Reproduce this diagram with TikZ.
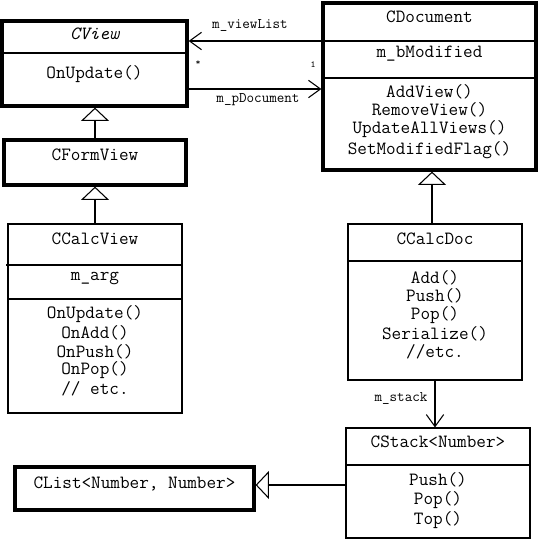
\documentclass[tikz,border=0pt]{standalone}
\usepackage{fontspec}
\usetikzlibrary{arrows.meta,calc}
\begin{document}
\begin{tikzpicture}[x=0.75pt,y=-0.75pt,
  cls/.style={draw, rectangle, line width=0.8pt, inner sep=0pt},
  thickcls/.style={cls, line width=2.4pt},
  txt/.style={inner sep=0pt, font=\ttfamily\fontsize{14}{16}\selectfont},
  lbl/.style={inner sep=0pt, font=\ttfamily\fontsize{11}{12}\selectfont},
  mult/.style={inner sep=0pt, font=\ttfamily\fontsize{7}{8}\selectfont},
  div/.style={line width=0.8pt},
  inh/.style={line width=0.8pt, -{Triangle[open, length=10pt, width=21pt, line width=0.8pt]}},
  assoc/.style={line width=0.8pt, -{Straight Barb[length=9pt, width=13pt, line width=0.8pt]}}
]
\useasboundingbox (0,0) rectangle (540,544);

% CView
\node[thickcls, minimum width=185*0.75pt, minimum height=85*0.75pt] (cview) at (94.5,63.5) {};
\draw[div] (cview.west |- 0,53) -- (cview.east |- 0,53);
\node[txt, font=\ttfamily\itshape\fontsize{14}{16}\selectfont] (cviewn) at (94.5,34) {CView};
\node[txt] (cviewop) at (94.5,74) {OnUpdate()};

% CDocument
\node[thickcls, minimum width=213*0.75pt, minimum height=167*0.75pt] (cdoc) at (429.5,86.5) {};
\draw[div] (cdoc.west |- 0,41) -- (cdoc.east |- 0,41);
\draw[div] (cdoc.west |- 0,78) -- (cdoc.east |- 0,78);
\node[txt] (cdocn) at (429.5,17) {CDocument};
\node[txt] (cdocattr) at (429.5,54) {m\_bModified};
\node[txt] (cdocop1) at (429.5,92) {AddView()};
\node[txt] (cdocop2) at (429.5,110) {RemoveView()};
\node[txt] (cdocop3) at (429.5,129) {UpdateAllViews()};
\node[txt] (cdocop4) at (429.5,150) {SetModifiedFlag()};

% CFormView
\node[thickcls, minimum width=182*0.75pt, minimum height=45*0.75pt] (cform) at (95,162.5) {};
\node[txt] (cformn) at (95,155) {CFormView};

% CCalcView
\node[cls, minimum width=174*0.75pt, minimum height=189*0.75pt] (ccview) at (95,318.5) {};
\draw[div] (6,265) -- (ccview.east |- 0,265);
\draw[div] (ccview.west |- 0,299) -- (ccview.east |- 0,299);
\node[txt] (ccviewn) at (95,239) {CCalcView};
\node[txt] (ccviewattr) at (95,278) {m\_arg};
\node[txt] (ccviewop1) at (95,314) {OnUpdate()};
\node[txt] (ccviewop2) at (95,333) {OnAdd()};
\node[txt] (ccviewop3) at (95,352) {OnPush()};
\node[txt] (ccviewop4) at (95,370) {OnPop()};
\node[txt] (ccviewop5) at (95,389) {// etc.};

% CCalcDoc
\node[cls, minimum width=174*0.75pt, minimum height=156*0.75pt] (ccdoc) at (435,302) {};
\draw[div] (ccdoc.west |- 0,261) -- (ccdoc.east |- 0,261);
\node[txt] (ccdocn) at (435,239) {CCalcDoc};
\node[txt] (ccdocop1) at (435,278) {Add()};
\node[txt] (ccdocop2) at (435,296) {Push()};
\node[txt] (ccdocop3) at (435,315) {Pop()};
\node[txt] (ccdocop4) at (435,334) {Serialize()};
\node[txt] (ccdocop5) at (435,352) {//etc.};

% CStack
\node[cls, minimum width=184*0.75pt, minimum height=110*0.75pt] (cstack) at (438,483) {};
\draw[div] (cstack.west |- 0,465) -- (cstack.east |- 0,465);
\node[txt] (cstackn) at (438,442) {CStack<Number>};
\node[txt] (cstackop1) at (438,480) {Push()};
\node[txt] (cstackop2) at (438,500) {Pop()};
\node[txt] (cstackop3) at (438,520) {Top()};

% CList
\node[thickcls, minimum width=239*0.75pt, minimum height=43*0.75pt] (clist) at (134.5,488.5) {};
\node[txt] (clistn) at (134.5,484) {CList<Number, Number>};

% Associations
\coordinate (vlA) at (cdoc.west |- 0,41);
\coordinate (vlB) at (cview.east |- 0,41);
\draw[assoc] (vlA) -- (vlB);
\node[lbl] (vllbl) at (250,25) {m\_viewList};
\coordinate (pdA) at (cview.east |- 0,89);
\coordinate (pdB) at (cdoc.west |- 0,89);
\draw[assoc] (pdA) -- (pdB);
\node[lbl] (pdlbl) at (258,100) {m\_pDocument};
\node[mult] (m1) at (198,63) {*};
\node[mult] (m2) at (313,65) {1};

\draw[assoc] (ccdoc.south) -- (ccdoc.south |- cstack.north);
\node[lbl] (stlbl) at (401,398) {m\_stack};

% Inheritance
\draw[inh] (cform.north) -- (cform.north |- cview.south);
\draw[inh] (ccview.north) -- (ccview.north |- cform.south);
\draw[inh] (ccdoc.north -| 432,0) -- (cdoc.south -| 432,0);
\draw[inh] (cstack.west |- 0,485) -- (clist.east |- 0,485);
\end{tikzpicture}
\end{document}
